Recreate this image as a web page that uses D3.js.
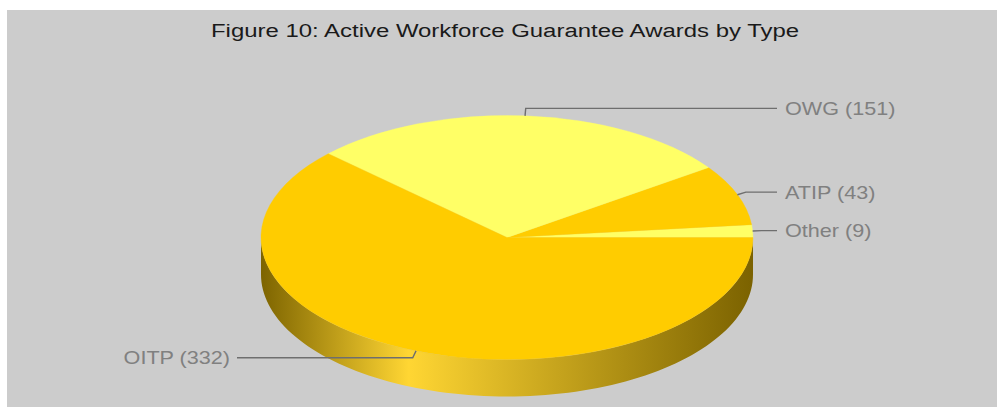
<!DOCTYPE html>
<html>
<head>
<meta charset="utf-8">
<script src="https://cdn.jsdelivr.net/npm/d3@7"></script>
<style>
  html, body { margin: 0; padding: 0; background: #ffffff; }
  svg { display: block; }
  text { font-family: "Liberation Sans", Arial, Helvetica, sans-serif; }
</style>
</head>
<body>
<svg id="chart" width="997" height="407"></svg>
<script>
// Award counts by type, in drawing order (counter-clockwise from 3 o'clock)
const categories = ["Other", "ATIP", "OWG", "OITP"];
const awards = [9, 43, 151, 332];
const sliceColors = ["#ffff66", "#ffcc00", "#ffff66", "#ffcc00"];
const titleText = "Figure 10: Active Workforce Guarantee Awards by Type";

const W = 997, H = 407;
const svg = d3.select("#chart");

// panel
svg.append("rect").attr("x", 7).attr("y", 10).attr("width", W - 7).attr("height", H - 10)
  .attr("fill", "#cccccc");

// title (glyphs drawn slightly wide, as in the original rendering)
svg.append("text")
  .attr("transform", "translate(505,37) scale(1.26,1)")
  .attr("text-anchor", "middle")
  .attr("font-size", 19)
  .attr("fill", "#1a1a1a")
  .text(titleText);

// pie geometry: elliptical top face with a vertical rim
const cx = 507, cy = 237.5, rx = 246, ry = 122, depth = 37;

const data = categories.map((c, i) => ({ name: c, value: awards[i], color: sliceColors[i] }));

// d3.pie angles run clockwise from 12 o'clock; start at 3 o'clock and run counter-clockwise
const pie = d3.pie().sort(null).value(d => d.value)
  .startAngle(Math.PI / 2).endAngle(Math.PI / 2 - 2 * Math.PI);
const arcs = pie(data);

// math angle (ccw from east, y up) from a d3 pie angle
const toPhi = a => Math.PI / 2 - a;
const ex = (phi, r = rx) => cx + r * Math.cos(phi);
const ey = (phi, r = ry) => cy - r * Math.sin(phi);

const defs = svg.append("defs");

// rim: only the front half (phi in [pi, 2pi]) is visible
const rim = svg.append("g");
arcs.forEach((d, i) => {
  const p0 = Math.min(toPhi(d.startAngle), toPhi(d.endAngle));
  const p1 = Math.max(toPhi(d.startAngle), toPhi(d.endAngle));
  const s = Math.max(p0, Math.PI), e = Math.min(p1, 2 * Math.PI);
  if (e <= s) return;
  const base = d3.color(d.data.color);
  const dark = base.darker(2).formatHex();
  const bright = d3.interpolateRgb(d.data.color, "#ffffff")(0.2);
  const gid = "rim" + i;
  const g = defs.append("linearGradient").attr("id", gid)
    .attr("gradientUnits", "userSpaceOnUse")
    .attr("x1", cx - rx).attr("y1", 0).attr("x2", cx + rx).attr("y2", 0);
  g.append("stop").attr("offset", "0%").attr("stop-color", dark);
  g.append("stop").attr("offset", "30%").attr("stop-color", bright);
  g.append("stop").attr("offset", "100%").attr("stop-color", d3.color(dark).darker(0.05).formatHex());

  const steps = d3.range(0, 101).map(k => s + (e - s) * k / 100);
  const top = steps.map(p => [ex(p), ey(p)]);
  const bottom = steps.slice().reverse().map(p => [ex(p), ey(p) + depth]);
  rim.append("path")
    .attr("d", d3.line()(top.concat(bottom)) + "Z")
    .attr("fill", "url(#" + gid + ")");
});

// top face: circular arcs squashed into the ellipse
const arcGen = d3.arc().innerRadius(0).outerRadius(rx);
svg.append("g")
  .attr("transform", `translate(${cx},${cy}) scale(1,${ry / rx})`)
  .selectAll("path").data(arcs).join("path")
  .attr("d", arcGen)
  .attr("fill", d => d.data.color)
  .attr("stroke", d => d.data.color)
  .attr("stroke-width", 0.5);

// leader lines and labels
const labelG = svg.append("g");
const colOffset = 24, elbowX = 9, elbowY = 7.5;
arcs.forEach(d => {
  const phi = toPhi((d.startAngle + d.endAngle) / 2);
  const x0 = ex(phi), y0 = ey(phi);
  const x1 = ex(phi, rx + elbowX), y1 = ey(phi, ry + elbowY);
  const right = Math.cos(phi) >= 0;
  const x2 = right ? cx + rx + colOffset : cx - rx - colOffset;
  labelG.append("path")
    .attr("d", d3.line()([[x0, y0], [x1, y1], [x2, y1]]))
    .attr("fill", "none")
    .attr("stroke", "#6e6e6e")
    .attr("stroke-width", 1.4);
  labelG.append("text")
    .attr("transform", `translate(${right ? x2 + 8 : x2 - 7},${y1 + 6.5}) scale(1.2,1)`)
    .attr("text-anchor", right ? "start" : "end")
    .attr("font-size", 18)
    .attr("fill", "#808080")
    .text(`${d.data.name} (${d.data.value})`);
});
</script>
</body>
</html>
